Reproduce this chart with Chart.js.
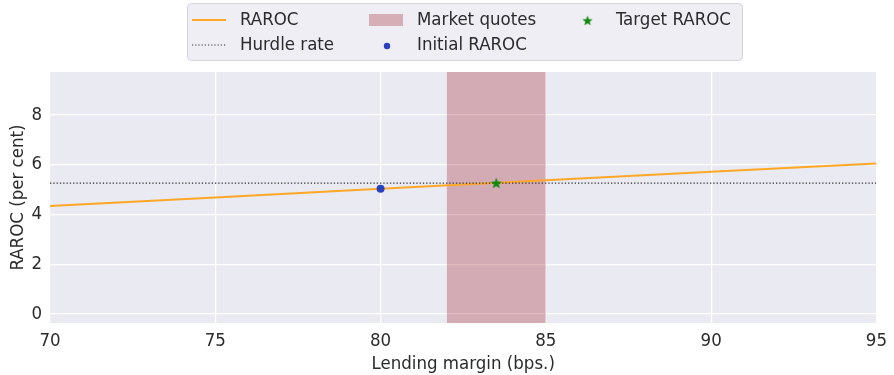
<!DOCTYPE html>
<html>
<head>
<meta charset="utf-8">
<script src="https://cdn.jsdelivr.net/npm/chart.js@4/dist/chart.umd.min.js"></script>
<style>
  html, body { margin: 0; padding: 0; background: #fff; }
  #wrap { width: 894px; height: 375px; }
</style>
</head>
<body>
<div id="wrap"><canvas id="rarocChart" width="894" height="375"></canvas></div>
<script>
// values
const marginX = [70, 75, 80, 85, 90, 95];
const rarocY = [4.34, 4.68, 5.03, 5.37, 5.71, 6.05];
const hurdleRate = 5.26;
const marketQuotes = [82, 85];
const initialRaroc = { x: 80, y: 5.03 };
const targetRaroc = { x: 83.5, y: 5.26 };
const xTicks = [70, 75, 80, 85, 90, 95];
const yTicks = [0, 2, 4, 6, 8];
const yMin = -0.36, yMax = 9.72;

const textColor = '#2b2b2b';
const fontFamily = '"DejaVu Sans Condensed", "DejaVu Sans"';
const font = { family: fontFamily, size: 18.5 };

// filled five point star like matplotlib '*'
function makeStar(size, color) {
    const c = document.createElement('canvas');
    c.width = size; c.height = size;
    const ctx = c.getContext('2d');
    const cx = size / 2, cy = size / 2 + 0.5, ro = size / 2, ri = ro * 0.42;
    ctx.beginPath();
    for (let i = 0; i < 10; i++) {
        const r = i % 2 ? ri : ro;
        const a = -Math.PI / 2 + i * Math.PI / 5;
        ctx.lineTo(cx + r * Math.cos(a), cy + r * Math.sin(a));
    }
    ctx.closePath();
    ctx.fillStyle = color;
    ctx.fill();
    return c;
}
const starImg = makeStar(12, '#108a10');

// legend in three columns like the matplotlib one
const legendBox = {
    id: 'legendBox',
    afterDraw(chart) {
        const ctx = chart.ctx;
        ctx.save();
        ctx.beginPath();
        ctx.roundRect(187.5, 3.5, 555, 57, 4);
        ctx.fillStyle = '#eeeef4';
        ctx.fill();
        ctx.strokeStyle = '#d4d4dc';
        ctx.lineWidth = 1;
        ctx.stroke();

        const r1 = 20, r2 = 45;
        ctx.font = '18.5px ' + fontFamily;
        ctx.fillStyle = textColor;
        ctx.textBaseline = 'middle';
        ctx.fillText('RAROC', 240, r1);
        ctx.fillText('Hurdle rate', 240, r2);
        ctx.fillText('Market quotes', 417, r1);
        ctx.fillText('Initial RAROC', 417, r2);
        ctx.fillText('Target RAROC', 616, r1);

        ctx.strokeStyle = '#ffa726';
        ctx.lineWidth = 2;
        ctx.beginPath(); ctx.moveTo(192, r1); ctx.lineTo(226, r1); ctx.stroke();

        ctx.strokeStyle = '#333';
        ctx.lineWidth = 1.2;
        ctx.setLineDash([1.2, 2]);
        ctx.beginPath(); ctx.moveTo(192, r2); ctx.lineTo(226, r2); ctx.stroke();
        ctx.setLineDash([]);

        ctx.fillStyle = 'rgba(160, 25, 35, 0.3)';
        ctx.fillRect(369, r1 - 6, 34, 12);

        ctx.fillStyle = '#2b3fbf';
        ctx.beginPath(); ctx.arc(387, r2 + 1, 3.2, 0, Math.PI * 2); ctx.fill();

        ctx.drawImage(starImg, 582, r1 - 5, 11, 11);
        ctx.restore();
    }
};

const plotBg = {
    id: 'plotBg',
    beforeDraw(chart) {
        const a = chart.chartArea;
        chart.ctx.save();
        chart.ctx.fillStyle = '#eaeaf2';
        chart.ctx.fillRect(a.left, a.top, a.right - a.left, a.bottom - a.top);
        chart.ctx.restore();
    }
};

const ctx = document.getElementById('rarocChart').getContext('2d');
new Chart(ctx, {
    type: 'scatter',
    data: {
        datasets: [
            {
                label: 'Market quotes',
                data: marketQuotes.map(x => ({ x: x, y: yMax })),
                showLine: true,
                fill: 'start',
                backgroundColor: 'rgba(160, 25, 35, 0.3)',
                borderWidth: 0,
                pointRadius: 0,
                order: 10
            },
            {
                label: 'RAROC',
                data: marginX.map((x, i) => ({ x: x, y: rarocY[i] })),
                showLine: true,
                borderColor: '#ffa726',
                borderWidth: 2,
                pointRadius: 0,
                order: 3
            },
            {
                label: 'Hurdle rate',
                data: [{ x: 70, y: hurdleRate }, { x: 95, y: hurdleRate }],
                showLine: true,
                borderColor: '#333',
                borderWidth: 1.3,
                borderDash: [1.3, 2],
                pointRadius: 0,
                order: 2
            },
            {
                label: 'Initial RAROC',
                data: [initialRaroc],
                backgroundColor: '#2b3fbf',
                borderWidth: 0,
                pointRadius: 4,
                order: 1
            },
            {
                label: 'Target RAROC',
                data: [targetRaroc],
                pointStyle: starImg,
                order: 0
            }
        ]
    },
    options: {
        responsive: false,
        animation: false,
        layout: { padding: { top: 72, right: 12, left: 7, bottom: 0 } },
        plugins: {
            legend: { display: false },
            tooltip: { enabled: false }
        },
        scales: {
            x: {
                type: 'linear',
                min: 70,
                max: 95,
                afterBuildTicks: s => { s.ticks = xTicks.map(v => ({ value: v })); },
                afterFit: s => { s.height = 52; },
                grid: { color: '#ffffff', lineWidth: 1.2, drawTicks: false },
                border: { display: false },
                ticks: { color: textColor, font: font, padding: 7, maxRotation: 0 },
                title: { display: true, text: 'Lending margin (bps.)', color: textColor, font: font, padding: { top: 0, bottom: 0 } }
            },
            y: {
                min: yMin,
                max: yMax,
                afterBuildTicks: s => { s.ticks = yTicks.map(v => ({ value: v })); },
                afterFit: s => { s.width = 43; },
                grid: { color: '#ffffff', lineWidth: 1.2, drawTicks: false },
                border: { display: false },
                ticks: { color: textColor, font: font, padding: 8 },
                title: { display: true, text: 'RAROC (per cent)', color: textColor, font: font, padding: { top: 0, bottom: 0 } }
            }
        }
    },
    plugins: [plotBg, legendBox]
});
</script>
</body>
</html>
